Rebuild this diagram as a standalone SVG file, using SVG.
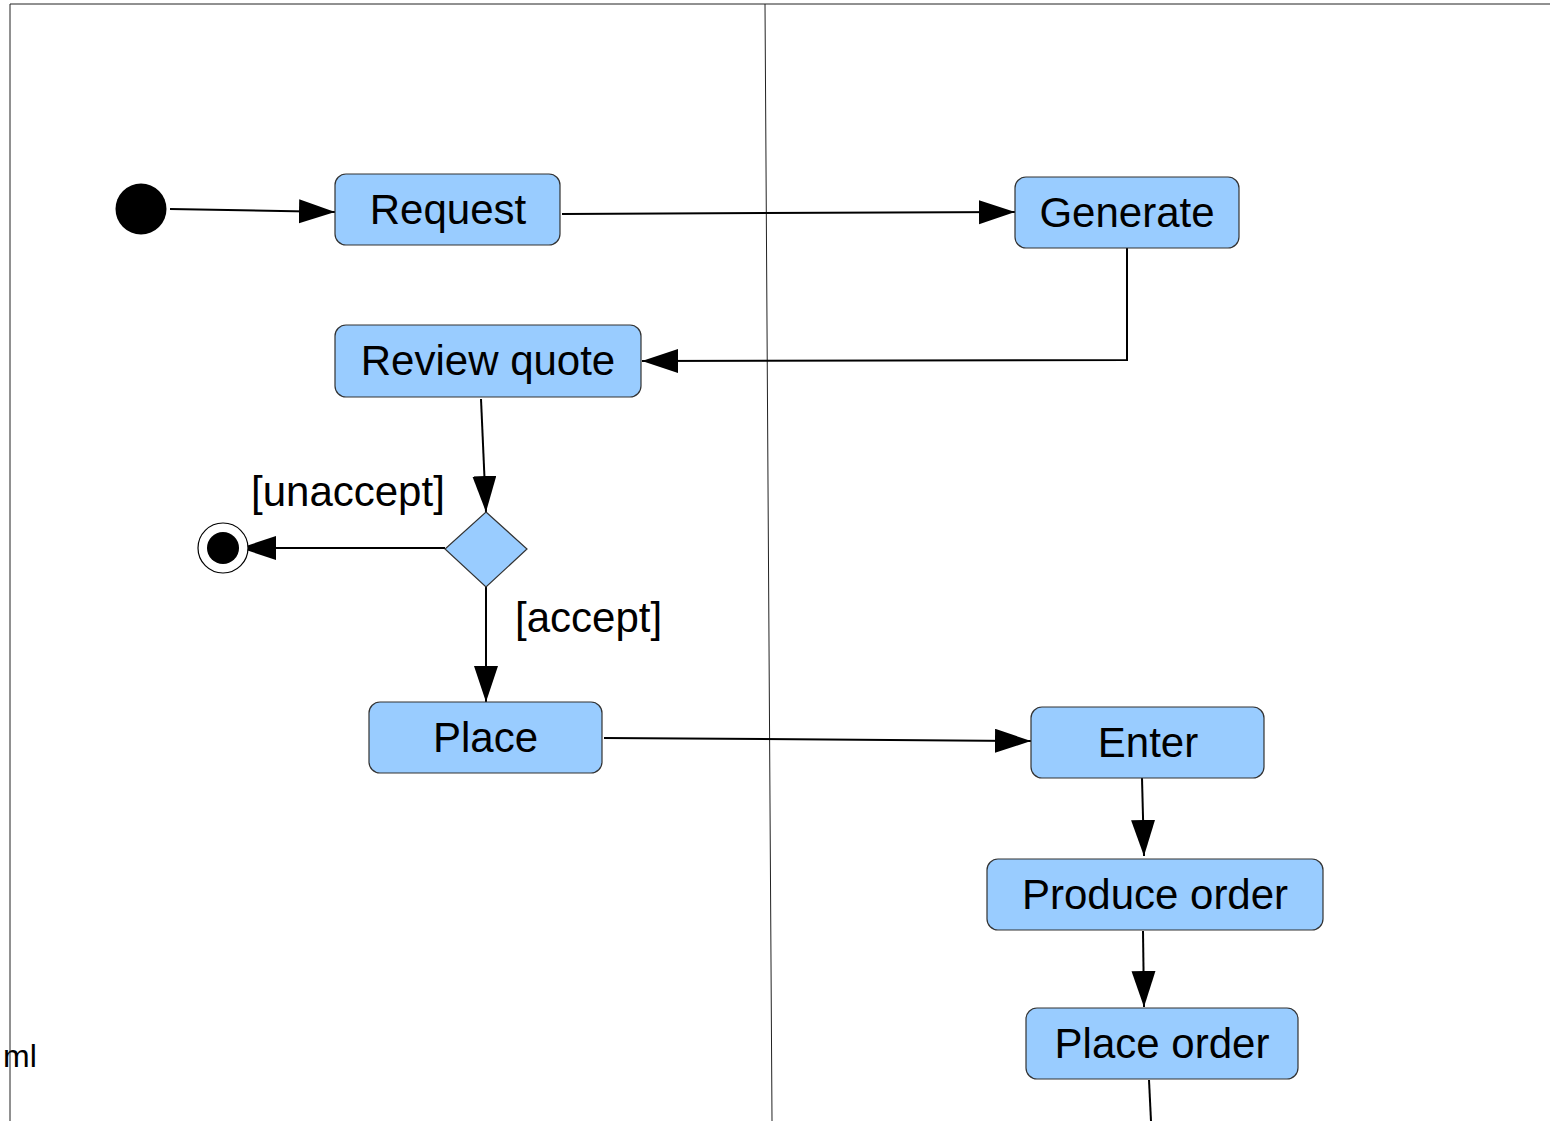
<svg xmlns="http://www.w3.org/2000/svg" width="1550" height="1121" viewBox="0 0 1550 1121">
<style>
.node rect, .node polygon { fill: #99ccff; stroke: #333333; stroke-width: 1.2; }
.lbl { font-family: "Liberation Sans", Arial, sans-serif; font-size: 42px; fill: #000; text-anchor: middle; }
.guard { font-family: "Liberation Sans", Arial, sans-serif; font-size: 42px; fill: #000; }
.edge { stroke: #000; stroke-width: 2; fill: none; }
.lane { stroke: #222222; stroke-width: 1; fill: none; }
</style>
<defs>
<marker id="arr" markerUnits="userSpaceOnUse" markerWidth="37" markerHeight="25" refX="36" refY="12" orient="auto" viewBox="0 0 37 25">
<path d="M0,0 L36,12 L0,24 Z" fill="#000"/>
</marker>
</defs>
<rect width="1550" height="1121" fill="#ffffff"/>
<g id="lanes">
<path class="lane" d="M10,1121 L10,4 L1550,4"/>
<path class="lane" d="M765,4 L772,1121"/>
</g>
<text x="3" y="1067" font-family="Liberation Sans, Arial, sans-serif" font-size="32" fill="#000">ml</text>
<g id="connectors">
<path class="edge" marker-end="url(#arr)" d="M170,209 L335,212"/>
<path class="edge" marker-end="url(#arr)" d="M562,214 L1015,212"/>
<path class="edge" marker-end="url(#arr)" d="M1127,248 L1127,360 L642,361"/>
<path class="edge" marker-end="url(#arr)" d="M481,399 L486,512"/>
<path class="edge" marker-end="url(#arr)" d="M445,548 L240,548"/>
<path class="edge" marker-end="url(#arr)" d="M486,587 L486,702"/>
<path class="edge" marker-end="url(#arr)" d="M604,738 L1031,741"/>
<path class="edge" marker-end="url(#arr)" d="M1142,778 L1144,856"/>
<path class="edge" marker-end="url(#arr)" d="M1143,931 L1144,1007"/>
<path class="edge" d="M1149,1080 L1151,1121"/>
</g>
<g id="initial">
<circle cx="141" cy="209" r="25.5" fill="#000"/>
</g>
<g id="request" class="node">
<rect x="335" y="174" width="225" height="71" rx="11"/>
<text class="lbl" x="448" y="224">Request</text>
</g>
<g id="generate" class="node">
<rect x="1015" y="177" width="224" height="71" rx="11"/>
<text class="lbl" x="1127" y="227">Generate</text>
</g>
<g id="review" class="node">
<rect x="335" y="325" width="306" height="72" rx="11"/>
<text class="lbl" x="488" y="375" font-size="42.4">Review quote</text>
</g>
<g id="decision" class="node">
<polygon points="486,512 527,549 486,587 445,549"/>
</g>
<g id="final">
<circle cx="223" cy="548" r="25" fill="#fff" stroke="#000" stroke-width="1.2"/>
<circle cx="223" cy="548" r="16" fill="#000"/>
</g>
<text class="guard" x="251" y="506">[unaccept]</text>
<text class="guard" x="515" y="632">[accept]</text>
<g id="place" class="node">
<rect x="369" y="702" width="233" height="71" rx="11"/>
<text class="lbl" x="485.5" y="752">Place</text>
</g>
<g id="enter" class="node">
<rect x="1031" y="707" width="233" height="71" rx="11"/>
<text class="lbl" x="1148" y="757">Enter</text>
</g>
<g id="produce" class="node">
<rect x="987" y="859" width="336" height="71" rx="11"/>
<text class="lbl" x="1155" y="909">Produce order</text>
</g>
<g id="placeorder" class="node">
<rect x="1026" y="1008" width="272" height="71" rx="11"/>
<text class="lbl" x="1162" y="1058">Place order</text>
</g>
</svg>
